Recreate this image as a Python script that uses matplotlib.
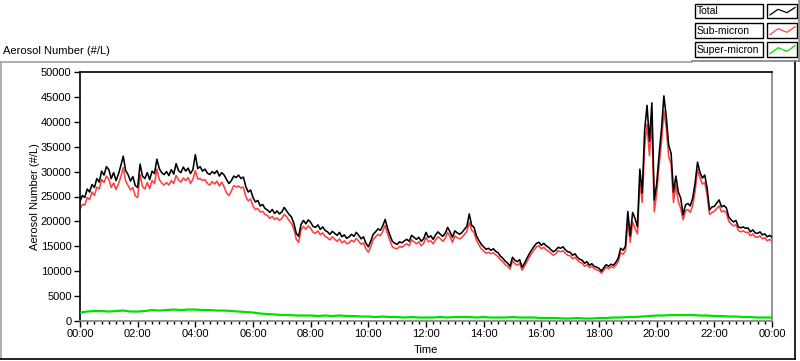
import numpy as np
import matplotlib
matplotlib.use("Agg")
import matplotlib.pyplot as plt
from matplotlib.lines import Line2D
from matplotlib.patches import Rectangle

plt.rcParams['font.family'] = ['Liberation Sans', 'DejaVu Sans']

# ---------------- data (values in thousands of #/L) ----------------
SAMPLE_MIN_MAIN = 5      # minutes between samples, total / sub-micron
SAMPLE_MIN_SUPER = 15    # minutes between samples, super-micron

total_k = [
    24.0, 25.2, 24.8, 26.5, 25.9, 27.4, 26.8, 28.6, 27.9, 30.1, 29.3, 31.0,
    30.4, 28.6, 29.8, 28.2, 29.5, 31.2, 33.1, 30.2, 29.4, 28.1, 29.0, 27.2,
    26.8, 31.5, 29.1, 28.6, 29.8, 28.4, 30.1, 29.6, 32.5, 30.6, 29.8, 29.4,
    30.0, 29.2, 30.4, 29.5, 31.6, 30.2, 29.8, 30.9, 30.1, 30.7, 29.6, 30.4,
    33.4, 30.6, 31.0, 30.1, 30.5, 29.7, 29.4, 30.0, 29.6, 30.2, 29.1, 29.8,
    29.3, 28.4, 27.6, 28.2, 29.1, 28.8, 29.3, 28.6, 28.9, 27.0, 25.9, 26.3,
    24.8, 23.9, 24.2, 23.1, 23.4, 22.6, 22.3, 21.8, 22.4, 21.6, 22.1, 21.5,
    21.9, 22.8, 22.1, 21.4, 20.9, 19.6, 17.6, 17.0, 19.4, 20.2, 19.5, 20.3,
    19.8, 19.0, 18.8, 19.3, 18.4, 18.9, 18.2, 17.9, 17.4, 18.0, 17.6, 17.2,
    17.8, 16.9, 17.3, 16.6, 16.9, 17.4, 17.0, 17.8, 17.2, 16.5, 16.9, 15.6,
    14.9, 16.0, 17.4, 17.9, 18.5, 18.2, 19.1, 20.4, 18.6, 17.2, 16.0, 15.6,
    15.4, 15.9, 15.7, 16.1, 16.4, 16.0, 17.2, 16.8, 16.4, 16.8, 16.0, 16.5,
    17.8, 16.8, 17.1, 16.4, 17.3, 17.9, 17.4, 17.0, 17.6, 18.8, 17.9, 16.8,
    18.1, 17.7, 17.4, 17.8, 18.4, 19.0, 21.5, 19.2, 18.8, 17.1, 16.2, 15.4,
    14.9, 14.4, 14.6, 14.2, 14.5, 14.0, 13.7, 13.0, 12.6, 12.0, 11.6, 11.0,
    12.8, 12.2, 11.9, 12.3, 10.8, 11.6, 12.6, 13.5, 14.3, 15.0, 15.6, 15.8,
    15.2, 15.6, 15.1, 14.8, 14.3, 13.9, 14.2, 14.8, 14.6, 14.9, 14.3, 13.9,
    13.8, 13.2, 13.5, 12.8, 12.4, 12.2, 11.6, 11.9, 11.2, 11.5, 11.0, 10.8,
    10.6, 10.0, 10.7, 11.3, 11.0, 11.4, 11.2, 11.8, 12.6, 14.6, 14.2, 15.0,
    22.0, 17.1, 21.8, 20.6, 18.9, 30.5, 25.7, 38.4, 43.3, 36.1, 43.8, 24.3,
    27.5, 33.3, 38.5, 45.2, 41.0, 35.3, 33.7, 25.9, 29.1, 25.9, 24.7, 21.3,
    23.3, 23.6, 23.1, 24.7, 27.7, 31.9, 29.9, 28.7, 29.3, 26.7, 22.3, 22.9,
    23.0, 23.7, 24.3, 22.9, 23.2, 22.7, 20.9, 20.3, 19.9, 20.2, 18.9, 18.7,
    18.9, 18.6, 18.7, 17.9, 18.3, 17.7, 17.6, 17.9, 17.3, 17.5, 16.9, 17.2,
    16.8,
]

sub_k = [
    22.5, 23.4, 23.3, 24.8, 24.4, 25.9, 25.2, 26.9, 26.5, 28.4, 27.8, 29.1,
    28.5, 26.8, 27.7, 26.4, 27.5, 29.0, 30.8, 28.1, 27.2, 26.3, 26.8, 25.1,
    24.8, 29.4, 27.0, 26.5, 27.8, 26.6, 28.2, 27.6, 30.5, 28.4, 27.7, 27.3,
    27.8, 27.3, 28.2, 27.6, 29.2, 28.3, 27.9, 28.7, 28.2, 28.8, 27.6, 28.5,
    30.2, 28.5, 28.6, 28.2, 28.4, 27.6, 27.3, 28.0, 27.5, 28.1, 27.1, 27.9,
    26.9, 25.7, 25.2, 26.1, 27.2, 26.9, 27.1, 26.7, 26.9, 25.0, 24.1, 24.5,
    23.1, 22.4, 22.6, 21.9, 22.0, 21.4, 21.2, 20.6, 21.0, 20.4, 20.7, 20.2,
    20.6, 21.4, 20.9, 20.2, 19.6, 18.5, 16.4, 15.8, 18.3, 19.0, 18.4, 19.1,
    18.6, 17.8, 17.6, 18.1, 17.3, 17.7, 17.0, 16.7, 16.3, 16.9, 16.4, 16.0,
    16.5, 15.7, 16.1, 15.5, 15.7, 16.2, 15.9, 16.6, 16.0, 15.4, 15.7, 14.5,
    13.8, 14.9, 16.3, 16.9, 17.4, 17.1, 18.0, 19.2, 17.5, 16.1, 14.9, 14.6,
    14.5, 15.0, 14.8, 15.2, 15.5, 15.1, 16.3, 15.9, 15.5, 15.9, 15.1, 15.6,
    16.8, 15.9, 16.1, 15.5, 16.3, 16.9, 16.5, 16.0, 16.6, 17.8, 16.9, 15.8,
    17.1, 16.7, 16.5, 16.8, 17.4, 18.0, 19.8, 18.2, 17.8, 16.2, 15.3, 14.5,
    14.1, 13.6, 13.8, 13.5, 13.7, 13.3, 12.9, 12.3, 11.9, 11.3, 11.0, 10.4,
    12.1, 11.5, 11.2, 11.6, 10.2, 11.0, 11.9, 12.8, 13.6, 14.3, 14.9, 15.1,
    14.5, 14.8, 14.3, 14.0, 13.6, 13.2, 13.5, 14.1, 13.9, 14.1, 13.6, 13.2,
    13.1, 12.5, 12.8, 12.2, 11.8, 11.6, 11.0, 11.3, 10.7, 11.0, 10.5, 10.3,
    10.1, 9.6, 10.2, 10.8, 10.5, 10.9, 10.7, 11.2, 11.9, 13.7, 13.4, 14.1,
    19.8, 15.8, 19.9, 18.6, 17.5, 27.9, 23.8, 35.0, 39.5, 33.2, 40.1, 21.9,
    25.6, 31.2, 36.0, 42.1, 38.8, 33.0, 31.5, 23.8, 27.3, 24.0, 22.6, 20.3,
    22.1, 22.4, 21.8, 23.2, 26.1, 30.4, 28.7, 27.5, 27.8, 25.3, 21.4, 21.8,
    22.0, 22.6, 23.1, 21.9, 22.1, 21.7, 20.0, 19.5, 19.1, 19.3, 18.2, 17.9,
    18.1, 17.8, 17.8, 17.1, 17.5, 16.9, 16.8, 17.1, 16.5, 16.7, 16.1, 16.4,
    16.0,
]

super_k = [
    1.7, 1.9, 2.0, 2.0,  1.9, 2.0, 2.1, 1.9,  1.9, 2.0, 2.2, 2.1,
    2.2, 2.3, 2.2, 2.3,  2.3, 2.2, 2.2, 2.1,  2.1, 2.0, 1.9, 1.8,
    1.7, 1.5, 1.4, 1.3,  1.2, 1.2, 1.1, 1.1,  1.1, 1.0, 1.1, 1.0,
    1.1, 1.0, 1.0, 0.9,  0.9, 0.8, 0.9, 0.8,  0.8, 0.7, 0.8, 0.7,
    0.7, 0.7, 0.8, 0.7,  0.8, 0.8, 0.8, 0.7,  0.8, 0.7, 0.7, 0.7,
    0.8, 0.7, 0.7, 0.7,  0.6, 0.6, 0.6, 0.5,  0.5, 0.6, 0.5, 0.5,
    0.6, 0.6, 0.7, 0.7,  0.8, 0.8, 0.9, 1.0,  1.1, 1.1, 1.2, 1.2,
    1.2, 1.2, 1.1, 1.1,  1.0, 1.0, 0.9, 0.9,  0.8, 0.8, 0.7, 0.7,
    0.7,
]

series_names = ["Total", "Sub-micron", "Super-micron"]
series_colors = ["#000000", "#ff4040", "#00e000"]
xtick_labels = ["00:00", "02:00", "04:00", "06:00", "08:00", "10:00", "12:00",
                "14:00", "16:00", "18:00", "20:00", "22:00", "00:00"]
yticks = [0, 5000, 10000, 15000, 20000, 25000, 30000, 35000, 40000, 45000, 50000]

# ---------------- figure ----------------
W, H = 800, 361
fig = plt.figure(figsize=(W / 100, H / 100), dpi=100)
fig.patch.set_facecolor("white")

def fx(px):
    return px / W

def fy(py):
    return 1 - py / H

ax = fig.add_axes([fx(80), fy(321), fx(772) - fx(80), fy(72) - fy(321)])

t_main = np.arange(len(total_k)) * SAMPLE_MIN_MAIN / 60.0
t_super = np.arange(len(super_k)) * SAMPLE_MIN_SUPER / 60.0

ax.plot(t_main, np.array(sub_k) * 1000, color=series_colors[1], lw=1.15, zorder=2)
ax.plot(t_main, np.array(total_k) * 1000, color=series_colors[0], lw=1.15, zorder=3)
ax.plot(t_super, np.array(super_k) * 1000, color=series_colors[2], lw=1.6, zorder=4)

ax.set_xlim(0, 24)
ax.set_ylim(0, 50000)
ax.set_xticks(np.arange(0, 25, 2))
ax.set_xticklabels(xtick_labels)
ax.set_xticks(np.arange(0, 24.01, 0.25), minor=True)
ax.set_yticks(yticks)
ax.set_yticklabels([str(v) for v in yticks])
ax.tick_params(axis="both", which="major", direction="out", length=4, width=1,
               labelsize=8, pad=2, colors="black")
ax.tick_params(axis="x", which="minor", direction="out", length=2.2, width=1)
ax.tick_params(axis="y", which="minor", left=False)
for s in ["left", "top"]:
    ax.spines[s].set_color("black")
    ax.spines[s].set_linewidth(1.2)
for s in ["right", "bottom"]:
    ax.spines[s].set_color("#808080")
    ax.spines[s].set_linewidth(1.2)

ax.set_xlabel("Time", fontsize=8, labelpad=4)
ax.set_ylabel("Aerosol Number (#/L)", fontsize=8, labelpad=1)

# ---------------- outer panel border ----------------
def hline(x0, x1, y, color, lw=1.0):
    fig.add_artist(Line2D([fx(x0), fx(x1)], [fy(y), fy(y)], color=color, lw=lw,
                          transform=fig.transFigure))

def vline(x, y0, y1, color, lw=1.0):
    fig.add_artist(Line2D([fx(x), fx(x)], [fy(y0), fy(y1)], color=color, lw=lw,
                          transform=fig.transFigure))

hline(0, 692, 61.5, "#a0a0a0", 1.2)
vline(1, 61.5, 359, "#a0a0a0", 1.2)
hline(0, 795, 359, "black", 1.2)
vline(795, 61, 359, "black", 1.2)

# title above panel
fig.text(fx(3), fy(51), "Aerosol Number (#/L)", fontsize=8, ha="left", va="center")

# ---------------- legend ----------------
hline(692, 800, 60.5, "#808080", 1.2)
vline(799, 0, 60.5, "#808080", 1.2)
rows_y = [(4, 18), (23, 38), (42, 57)]
for name, color, (y0, y1) in zip(series_names, series_colors, rows_y):
    fig.add_artist(Rectangle((fx(695), fy(y1)), fx(763) - fx(695), fy(y0) - fy(y1),
                             transform=fig.transFigure, fill=False,
                             edgecolor="black", lw=1.0))
    fig.add_artist(Rectangle((fx(767), fy(y1)), fx(797) - fx(767), fy(y0) - fy(y1),
                             transform=fig.transFigure, fill=False,
                             edgecolor="black", lw=1.0))
    fig.text(fx(697), fy((y0 + y1) / 2 + 0.5), name, fontsize=7.5, ha="left", va="center")
    h = y1 - y0
    xs = [770, 778, 787, 795]
    ys = [y0 + 0.78 * h, y0 + 0.38 * h, y0 + 0.62 * h, y0 + 0.25 * h]
    fig.add_artist(Line2D([fx(v) for v in xs], [fy(v) for v in ys], color=color,
                          lw=0.9, transform=fig.transFigure))

fig.savefig("out.png", dpi=100)
